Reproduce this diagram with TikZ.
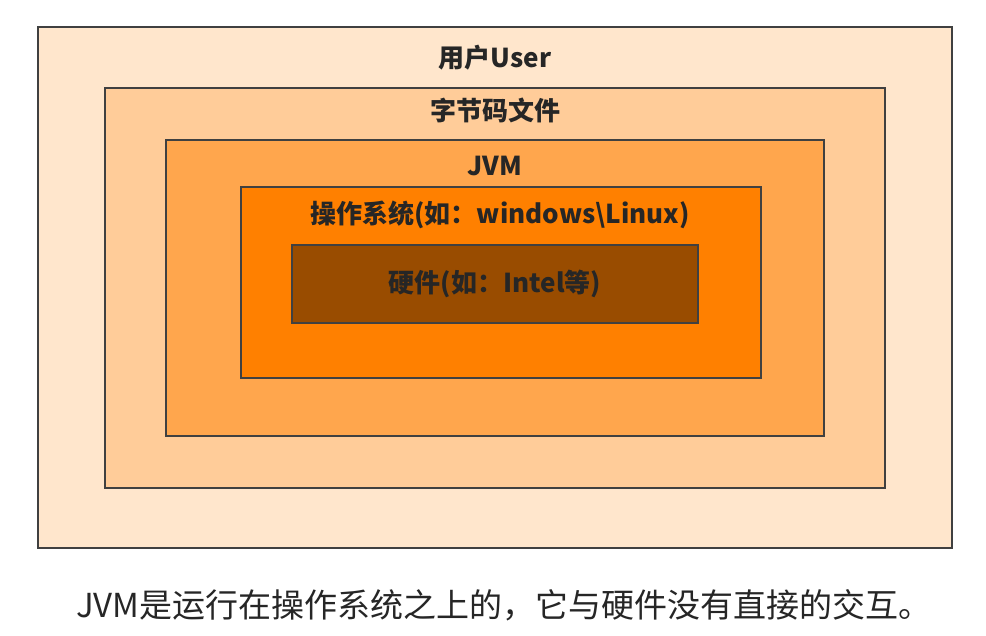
\documentclass[tikz,border=0pt]{standalone}
\usepackage{fontspec}
\newfontfamily\cjk{Noto Sans CJK SC}
\begin{document}
\begin{tikzpicture}[x=1pt,y=-1pt,
  layer/.style={draw=black!75,line width=1.3pt},
  lbl/.style={font=\cjk\bfseries\fontsize{26}{30}\selectfont,text=black!85}]
\useasboundingbox (0,0) rectangle (986,636);
\fill[white] (0,0) rectangle (986,636);
\draw[layer,fill={rgb,255:red,255;green,230;blue,204}] (38,27) rectangle (952,548);
\draw[layer,fill={rgb,255:red,255;green,204;blue,153}] (105,88) rectangle (885,488);
\draw[layer,fill={rgb,255:red,255;green,166;blue,77}] (166,140) rectangle (824,436);
\draw[layer,fill={rgb,255:red,255;green,128;blue,0}] (241,187) rectangle (761,378);
\draw[layer,fill={rgb,255:red,153;green,76;blue,0}] (292,245) rectangle (698,323);
\node[lbl] (u) at (495,58) {用户User};
\node[lbl] (b) at (495,110) {字节码文件};
\node[lbl] (j) at (495,166) {JVM};
\node[lbl] (o) at (500,215) {操作系统(如：windows\textbackslash Linux)};
\node[lbl] (h) at (495,284) {硬件(如：Intel等)};
\node[font=\cjk\fontsize{33}{38}\selectfont,text=black!85] (c) at (504,605) {JVM是运行在操作系统之上的，它与硬件没有直接的交互。};
\end{tikzpicture}
\end{document}
